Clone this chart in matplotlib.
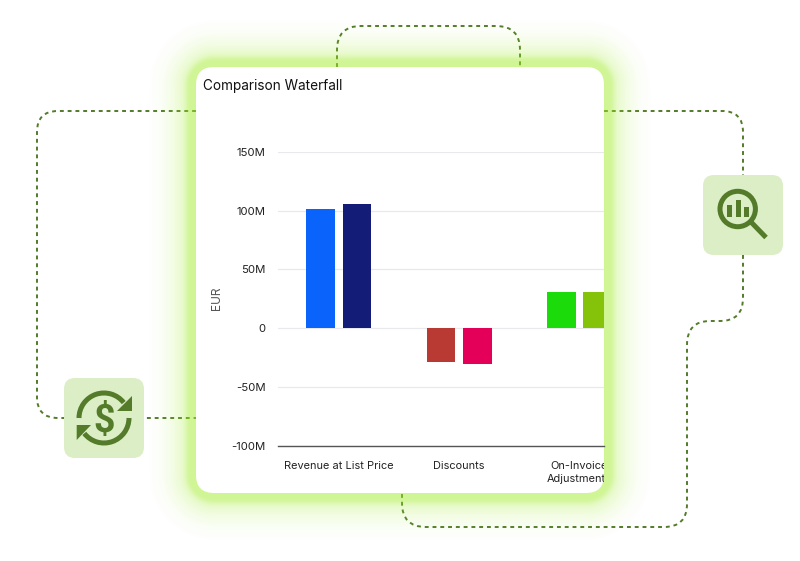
import numpy as np
import matplotlib
matplotlib.use('Agg')
import matplotlib.pyplot as plt
from matplotlib.patches import FancyBboxPatch, Circle, Polygon, Arc, PathPatch
from matplotlib.path import Path
from matplotlib.transforms import Bbox

plt.rcParams['font.family'] = ['Inter', 'DejaVu Sans']

# Data (EUR, millions)
categories = ['Revenue at List Price', 'Discounts', 'On-Invoice\nAdjustments']
values_a = [101, -29, 30.5]
values_b = [105.5, -30.5, 30.5]
colors_a = ['#0a64fb', '#b83a32', '#1bdb0a']
colors_b = ['#131c76', '#e40059', '#85c20a']
y_ticks = [-100, -50, 0, 50, 100, 150]
y_labels = ['-100M', '-50M', '0', '50M', '100M', '150M']

W, H = 800, 561
CARD = (196, 67, 604, 493)
GREEN = '#537b29'
BOX = '#dbeec5'


def rounded(x0, y0, x1, y1, r, color, z):
    return FancyBboxPatch((x0, y0), x1 - x0, y1 - y0, boxstyle=f'round,pad=0,rounding_size={r}',
                          fc=color, ec='none', lw=0, zorder=z)


def dashed(verts, codes):
    bg.add_patch(PathPatch(Path(verts, codes), fc='none', ec=GREEN, lw=1.4,
                           ls=(0, (2, 2)), zorder=1))


fig = plt.figure(figsize=(W / 100, H / 100), dpi=100, facecolor='white')

# background layer works in pixel coordinates
bg = fig.add_axes([0, 0, 1, 1])
bg.set_xlim(0, W)
bg.set_ylim(H, 0)
bg.axis('off')

M, L, C = Path.MOVETO, Path.LINETO, Path.CURVE3

# connector lines
dashed([(196, 111), (58, 111), (37, 111), (37, 132), (37, 397), (37, 418), (58, 418), (196, 418)],
       [M, L, C, C, L, C, C, L])
dashed([(337, 67), (337, 50), (337, 26), (361, 26), (496, 26), (520, 26), (520, 50), (520, 67)],
       [M, L, C, C, L, C, C, L])
dashed([(604, 111), (722, 111), (743, 111), (743, 132), (743, 175)],
       [M, L, C, C, L])
dashed([(743, 255), (743, 298), (743, 321), (720, 321), (710, 321), (687, 321), (687, 345),
        (687, 504), (687, 527), (664, 527), (426, 527), (402, 527), (402, 503), (402, 493)],
       [M, L, C, C, L, C, C, L, C, C, L, C, C, L])

# glow round the card: soft band near the edge, then a long fade
yy, xx = np.mgrid[0:H, 0:W] + 0.5
cx, cy = (CARD[0] + CARD[2]) / 2, (CARD[1] + CARD[3]) / 2
hw, hh = (CARD[2] - CARD[0]) / 2, (CARD[3] - CARD[1]) / 2
qx = np.abs(xx - cx) - hw + 18
qy = np.abs(yy - cy) - hh + 18
dist = np.hypot(np.maximum(qx, 0), np.maximum(qy, 0)) + np.minimum(np.maximum(qx, qy), 0) - 18
glow = np.zeros((H, W, 4))
glow[..., :3] = matplotlib.colors.to_rgb('#9feb27')
glow[..., 3] = np.interp(dist, [0, 7, 12, 16, 26, 36, 48], [0.5, 0.48, 0.28, 0.2, 0.1, 0.035, 0])
bg.imshow(glow, extent=(0, W, H, 0), zorder=2, aspect='auto', interpolation='nearest')
bg.set_xlim(0, W)
bg.set_ylim(H, 0)

bg.add_patch(rounded(*CARD, 18, 'white', 3))

# magnifier icon
bg.add_patch(rounded(703, 175, 783, 255, 11, BOX, 4))
bg.add_patch(Circle((737.7, 209), 17.7, fc='none', ec=GREEN, lw=3.6, zorder=5))
bg.plot([751, 766], [222, 237.5], color=GREEN, lw=3.6, solid_capstyle='butt', zorder=5)
for bx, top in zip([729.2, 738.2, 746.8], [205, 200, 207]):
    bg.add_patch(plt.Rectangle((bx - 2.5, top), 5, 217 - top, fc=GREEN, ec='none', zorder=5))

# dollar icon
bg.add_patch(rounded(64, 378, 144, 458, 11, BOX, 4))
bg.add_patch(Arc((104, 418), 50, 50, theta1=180, theta2=322, ec=GREEN, lw=3.6, zorder=5))
bg.add_patch(Arc((104, 418), 50, 50, theta1=0, theta2=142, ec=GREEN, lw=3.6, zorder=5))
bg.add_patch(Polygon([(131.7, 396), (131.7, 410.7), (117.3, 410.7)], fc=GREEN, ec='none', zorder=5))
bg.add_patch(Polygon([(76.7, 425), (91, 425), (76.7, 440)], fc=GREEN, ec='none', zorder=5))
bg.text(104, 417, '$', fontsize=27, color=GREEN, ha='center', va='center_baseline',
        family='Roboto', fontweight='bold', zorder=5)

bg.text(203, 85.5, 'Comparison Waterfall', fontsize=9.8, color='#111111', va='center', zorder=5)

# chart axes placed over the card
left, right, top, bottom = 278, 604, 151.6, 446.1
ax = fig.add_axes([left / W, 1 - bottom / H, (right - left) / W, (bottom - top) / H])
ax.patch.set_alpha(0)
ax.set_zorder(2)

x = np.arange(len(categories))
width = 0.2365
offset = 0.151
ax.bar(x - offset, values_a, width, color=colors_a, zorder=3)
ax.bar(x + offset, values_b, width, color=colors_b, zorder=3)

ax.set_xlim(-0.503, 2.203)
ax.set_ylim(-100, 150)
ax.set_yticks(y_ticks)
ax.set_yticklabels(y_labels, fontsize=8.2, color='#222222')
ax.set_xticks(x)
ax.set_xticklabels(categories, fontsize=7.9, color='#222222', linespacing=1.3)
ax.tick_params(axis='both', length=0)
ax.tick_params(axis='y', pad=9)
ax.tick_params(axis='x', pad=11)
ax.grid(axis='y', color='#e9e9ed', lw=0.9, zorder=0)
ax.set_axisbelow(True)
for name in ['top', 'right', 'left']:
    ax.spines[name].set_visible(False)
ax.spines['bottom'].set_color('#555555')
ax.spines['bottom'].set_linewidth(1)

# the card cuts off whatever runs past its edge (Agg clips text to a box only)
for label in ax.get_xticklabels():
    label.set_clip_on(True)
    label.set_clip_box(Bbox([[0, 0], [right, H]]))

fig.text(217.5 / W, 1 - 298.5 / H, 'EUR', fontsize=8.6, color='#555555', rotation=90, ha='center', va='center')

fig.savefig('out.png', dpi=100)
